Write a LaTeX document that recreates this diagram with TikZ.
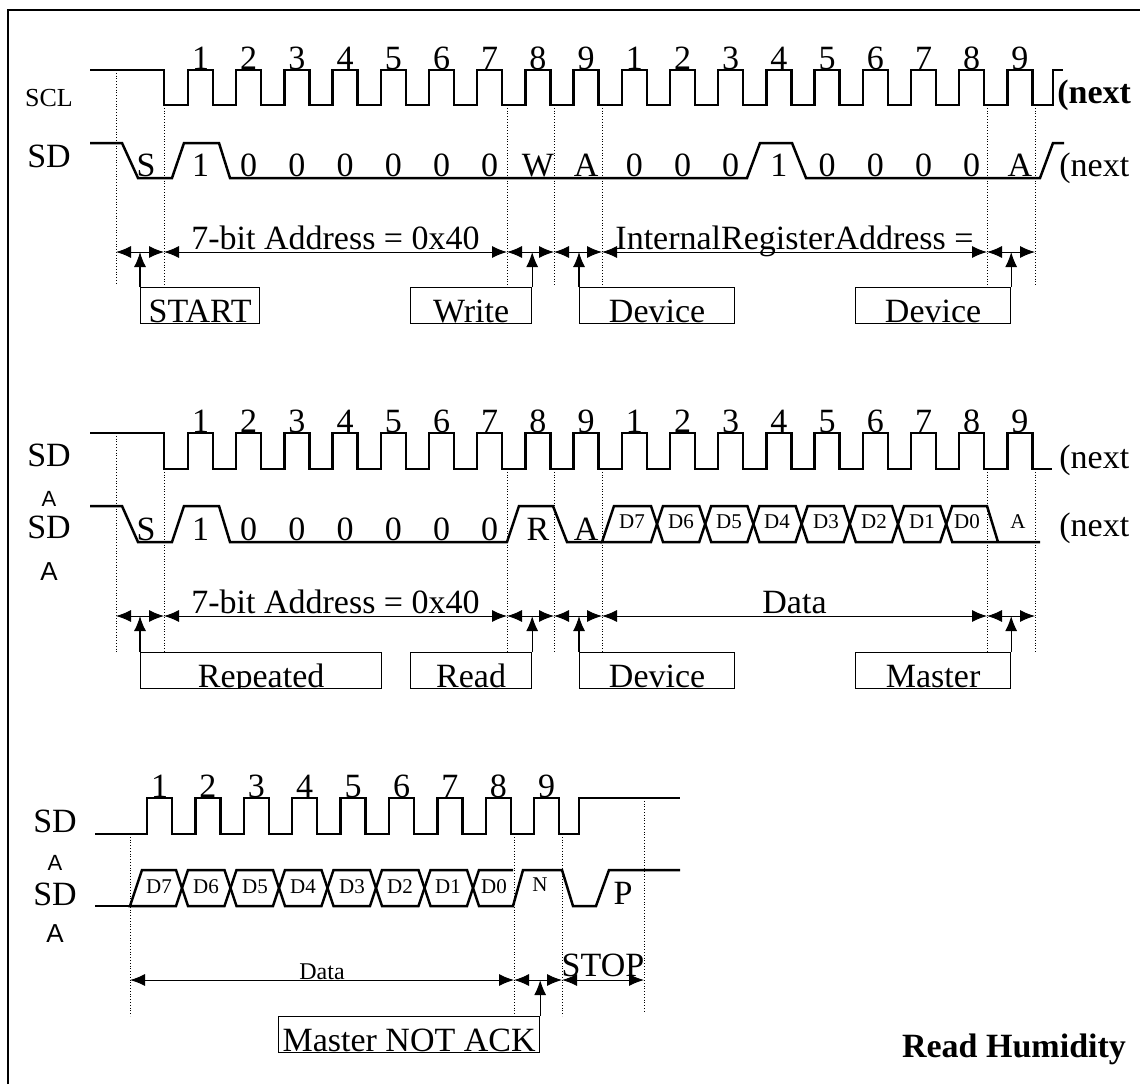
\documentclass[tikz,border=0pt]{standalone}
\usepackage{fontspec}
\setmainfont{Liberation Serif}
\setsansfont{Liberation Sans}
\usetikzlibrary{arrows.meta}

\tikzset{
  wave/.style={line width=1.25pt},
  guide/.style={densely dotted, line width=0.4pt},
  dimline/.style={line width=0.5pt, {Latex[length=7.5pt,width=6pt]}-{Latex[length=7.5pt,width=6pt]}},
  pointer/.style={line width=0.6pt, -{Latex[length=7.5pt,width=6pt]}},
  tagbox/.style={draw, line width=0.6pt, inner sep=0pt, minimum height=18pt, anchor=north west},
  big/.style={font=\fontsize{17}{20}\selectfont, inner sep=0pt},
  tiny/.style={font=\fontsize{10.5}{12}\selectfont, inner sep=0pt},
  sig/.style={font=\fontsize{13}{15}\selectfont, inner sep=0pt},
  sfa/.style={font=\sffamily\fontsize{11}{13}\selectfont, inner sep=0pt},
  sfb/.style={font=\sffamily\fontsize{13}{15}\selectfont, inner sep=0pt},
}

% name, north west corner, width (px), text
\newcommand\tagbox[4]{%
  \node[tagbox, minimum width=#3*0.5pt,
    path picture={\node[big, anchor=base] at ([yshift=0.5pt]path picture bounding box.south) {#4};}]
    (#1) at (#2) {};}

\begin{document}
\begin{tikzpicture}[x=0.5pt, y=-0.5pt]
  \useasboundingbox (0,0) rectangle (1140,1084);
  \draw[line width=1pt] (8,1084) -- (8,10) -- (1140,10);

  % ---------- write register address ----------
  \node[sig, anchor=base] (scl1) at (49,106) {SCL};
  \node[big, anchor=base] (sd1) at (49,167) {SD};
  \draw[wave] (90,70) -- (164,70) -- (164,105)
    foreach \k in {0,...,17} { -- ({188+48.2*\k},105) -- ++(0,-35) -- ++(25,0) -- ++(0,35) }
    -- (1053,105) -- (1053,70) -- (1063,70);
  \foreach \k in {0,...,17} {
    \pgfmathtruncatemacro\digit{mod(\k,9)+1}
    \node[big, anchor=base] (ta\k) at ({200.5+48.2*\k},69) {\digit};
  }
  \node[anchor=base west, inner sep=0pt, font=\fontsize{17}{20}\selectfont\bfseries] (nxa) at (1057,103) {(next};

  \draw[wave] (90,143) -- (122,143) -- (138,178) -- (172,178) -- (184,143) -- (219,143) -- (230,178)
    -- (747,178) -- (760,143) -- (792,143) -- (806,178) -- (1040,178) -- (1053,143) -- (1064,143);
  \node[big, anchor=base] (sa) at (146,176) {S};
  \foreach \t [count=\k from 0] in {1,0,0,0,0,0,0,W,A,0,0,0,1,0,0,0,0,A}
    \node[big, anchor=base] (ba\k) at ({200.5+48.2*\k},176) {\t};
  \node[big, anchor=base west] (nxb) at (1059,176) {(next};

  \draw[guide] (116,70) -- (116,285);
  \foreach \x in {164,507,554,602,987,1035} \draw[guide] (\x,105) -- (\x,285);
  \foreach \x [count=\i] in {116,164,507,554,602,987,1035} \coordinate (a\i) at (\x,252);
  \draw[dimline] (a1) -- (a2);
  \draw[dimline] (a2) -- node[big, anchor=base, yshift=1.5pt] {7-bit Address = 0x40} (a3);
  \draw[dimline] (a3) -- (a4);
  \draw[dimline] (a4) -- (a5);
  \draw[dimline] (a5) -- node[big, anchor=base, yshift=1.5pt] {InternalRegisterAddress =} (a6);
  \draw[dimline] (a6) -- (a7);

  \tagbox{bstart}{140,287}{119}{START}
  \tagbox{bwrite}{410,287}{121}{Write}
  \tagbox{bdeva}{579,287}{155}{Device}
  \tagbox{bdevb}{855,287}{155}{Device}
  \draw[pointer] (bstart.north west) -- (bstart.north west |- a1);
  \draw[pointer] (bwrite.north east) -- (bwrite.north east |- a1);
  \draw[pointer] (bdeva.north west) -- (bdeva.north west |- a1);
  \draw[pointer] (bdevb.north east) -- (bdevb.north east |- a1);

  % ---------- read data ----------
  \node[big, anchor=base] (sd2) at (49,466) {SD};
  \node[sfa, anchor=base] (sd2a) at (49,506) {A};
  \node[big, anchor=base] (sd3) at (49,538) {SD};
  \node[sfb, anchor=base] (sd3a) at (49,580) {A};
  \draw[wave] (90,433) -- (164,433) -- (164,469)
    foreach \k in {0,...,17} { -- ({188+48.2*\k},469) -- ++(0,-36) -- ++(25,0) -- ++(0,36) }
    -- (1052,469);
  \foreach \k in {0,...,17} {
    \pgfmathtruncatemacro\digit{mod(\k,9)+1}
    \node[big, anchor=base] (tb\k) at ({200.5+48.2*\k},432) {\digit};
  }
  \node[big, anchor=base west] (nxc) at (1059,468) {(next};

  \draw[wave] (90,506) -- (122,506) -- (138,542) -- (172,542) -- (184,506) -- (219,506) -- (230,542)
    -- (507,542) -- (519,506) -- (553,506) -- (567,542) -- (602,542);
  \draw[wave] (602,542) -- (614,506) -- (651,506) -- (657,524) -- (651,542) -- cycle;
  \foreach \j in {0,...,5}
    \draw[wave] ({657+48.2*\j},524) -- ++(6,-18) -- ({657+48.2*(\j+1)-6},506) -- ++(6,18)
      -- ++(-6,18) -- ({657+48.2*\j+6},542) -- cycle;
  \draw[wave] (1040,542) -- (952.2,542) -- (946.2,524) -- (952.2,506) -- (987,506) -- (998,542);
  \node[big, anchor=base] (sb) at (146,540) {S};
  \foreach \t [count=\k from 0] in {1,0,0,0,0,0,0,R,A}
    \node[big, anchor=base] (bb\k) at ({200.5+48.2*\k},540) {\t};
  \foreach \x/\t [count=\k] in {632/D7,681/D6,729/D5,777/D4,826/D3,874/D2,922/D1,967/D0}
    \node[tiny, anchor=base] (db\k) at (\x,528) {\t};
  \node[tiny, anchor=base] (ackb) at (1018,528) {A};
  \node[big, anchor=base west] (nxd) at (1059,536) {(next};

  \draw[guide] (116,433) -- (116,652);
  \foreach \x in {164,507,554,602,987,1035} \draw[guide] (\x,469) -- (\x,652);
  \foreach \x [count=\i] in {116,164,507,554,602,987,1035} \coordinate (b\i) at (\x,616);
  \draw[dimline] (b1) -- (b2);
  \draw[dimline] (b2) -- node[big, anchor=base, yshift=1.5pt] {7-bit Address = 0x40} (b3);
  \draw[dimline] (b3) -- (b4);
  \draw[dimline] (b4) -- (b5);
  \draw[dimline] (b5) -- node[big, anchor=base, yshift=1.5pt] {Data} (b6);
  \draw[dimline] (b6) -- (b7);

  \tagbox{brep}{140,652}{241}{Repeated}
  \tagbox{bread}{410,652}{121}{Read}
  \tagbox{bdevc}{579,652}{155}{Device}
  \tagbox{bmaster}{855,652}{155}{Master}
  \draw[pointer] (brep.north west) -- (brep.north west |- b1);
  \draw[pointer] (bread.north east) -- (bread.north east |- b1);
  \draw[pointer] (bdevc.north west) -- (bdevc.north west |- b1);
  \draw[pointer] (bmaster.north east) -- (bmaster.north east |- b1);

  % ---------- last byte, NOT ACK, stop ----------
  \node[big, anchor=base] (sd4) at (55,832) {SD};
  \node[sfa, anchor=base] (sd4a) at (55,870) {A};
  \node[big, anchor=base] (sd5) at (55,905) {SD};
  \node[sfb, anchor=base] (sd5a) at (55,942) {A};
  \draw[wave] (95,834)
    foreach \k in {0,...,8} { -- ({147+48.4*\k},834) -- ++(0,-36) -- ++(25,0) -- ++(0,36) }
    -- (579,834) -- (579,798) -- (680,798);
  \foreach \k in {0,...,8} {
    \pgfmathtruncatemacro\digit{\k+1}
    \node[big, anchor=base] (tc\k) at ({159.5+48.4*\k},797) {\digit};
  }

  \draw[wave] (95,906) -- (130,906);
  \draw[wave] (130,906) -- (142,870) -- (176,870) -- (182,888) -- (176,906) -- cycle;
  \foreach \j in {0,...,5}
    \draw[wave] ({182+48.5*\j},888) -- ++(6,-18) -- ({182+48.5*(\j+1)-6},870) -- ++(6,18)
      -- ++(-6,18) -- ({182+48.5*\j+6},906) -- cycle;
  \draw[wave] (513,870) -- (479,870) -- (473,888) -- (479,906) -- (513,906) -- (523,870)
    -- (562,870) -- (573,906) -- (596,906) -- (609,870) -- (680,870);
  \foreach \x/\t [count=\k] in {159/D7,206/D6,255/D5,303/D4,352/D3,400/D2,448/D1,494/D0}
    \node[tiny, anchor=base] (dc\k) at (\x,893) {\t};
  \node[tiny, anchor=base] (nack) at (540,891) {N};
  \node[big, anchor=base] (stp) at (623,904) {P};

  \foreach \x in {130,514,562} \draw[guide] (\x,834) -- (\x,1016);
  \draw[guide] (644,798) -- (644,1013);
  \foreach \x [count=\i] in {130,514,562,644} \coordinate (e\i) at (\x,980);
  \draw[dimline] (e1) -- node[anchor=base, inner sep=0pt, font=\fontsize{12}{14}\selectfont, yshift=0.5pt] {Data} (e2);
  \draw[dimline] (e2) -- (e3);
  \draw[dimline] (e3) -- node[big, anchor=base, yshift=2pt] {STOP} (e4);

  \tagbox{bnack}{278,1016}{261}{Master NOT ACK}
  \draw[pointer] (bnack.north east) -- (bnack.north east |- e1);

  \node[anchor=base, inner sep=0pt, font=\fontsize{17}{20}\selectfont\bfseries] (title) at (1014,1057) {Read Humidity};
\end{tikzpicture}
\end{document}
